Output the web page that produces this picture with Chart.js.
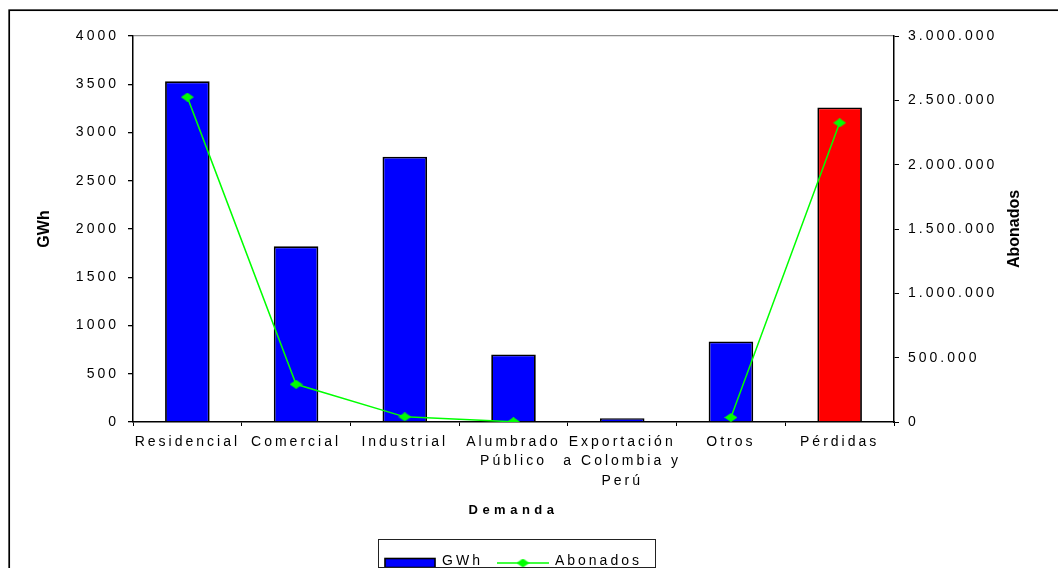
<!DOCTYPE html>
<html>
<head>
<meta charset="utf-8">
<title>Demanda</title>
<script src="https://cdn.jsdelivr.net/npm/chart.js@4/dist/chart.umd.min.js"></script>
<style>
  html, body { margin: 0; padding: 0; background: #fff; overflow: hidden; }
  canvas { display: block; }
</style>
</head>
<body>
<canvas id="c" width="1058" height="568"></canvas>
<script>
// Categories of demand
const categories = [
  'Residencial',
  'Comercial',
  'Industrial',
  ['Alumbrado', 'Público'],
  ['Exportación', 'a Colombia y', 'Perú'],
  'Otros',
  'Pérdidas'
];
// Energy per category (GWh)
const gwh = [3530, 1820, 2750, 700, 40, 835, 3260];
// Number of subscribers per category
const abonados = [2525000, 293000, 40000, 2000, null, 35000, 2325000];
// Bar fill per category
const barColors = ['#0000FF', '#0000FF', '#0000FF', '#0000FF', '#0000FF', '#0000FF', '#FF0000'];
// Axis ranges
const gwhMax = 4000, gwhStep = 500;
const aboMax = 3000000, aboStep = 500000;

const FONT = "'Liberation Sans', Arial, sans-serif";
const PAD_RIGHT = 31;

function thousands(v) {
  return String(Math.round(v)).replace(/\B(?=(\d{3})+(?!\d))/g, '.');
}

// Flattened diamond marker
function diamondImage(w, h, color) {
  const c = document.createElement('canvas');
  c.width = w; c.height = h;
  const g = c.getContext('2d');
  g.fillStyle = color;
  g.beginPath();
  g.moveTo(w / 2, 0); g.lineTo(w, h / 2); g.lineTo(w / 2, h); g.lineTo(0, h / 2);
  g.closePath(); g.fill();
  return c;
}
const marker = diamondImage(13, 9, '#00FF00');

// Legend swatches
function barSwatch() {
  const c = document.createElement('canvas');
  c.width = 52; c.height = 16;
  const g = c.getContext('2d');
  g.fillStyle = '#0000FF';
  g.fillRect(1, 5.5, 50, 9);
  g.strokeStyle = '#000'; g.lineWidth = 1.6;
  g.strokeRect(1, 5.5, 50, 9);
  return c;
}
function lineSwatch() {
  const c = document.createElement('canvas');
  c.width = 52; c.height = 16;
  const g = c.getContext('2d');
  g.strokeStyle = '#00FF00'; g.lineWidth = 1.5;
  g.beginPath(); g.moveTo(0, 10); g.lineTo(52, 10); g.stroke();
  g.drawImage(marker, 26 - 6.5, 10 - 4.5);
  return c;
}
const swatches = [barSwatch(), lineSwatch()];

const decor = {
  id: 'decor',
  beforeUpdate(chart) { chart.ctx.letterSpacing = '3px'; },
  afterUpdate(chart) {
    const patch = (scale, sp) => {
      if (!scale || scale._spPatched) return;
      const orig = scale.drawTitle;
      scale.drawTitle = function () {
        const c = this.ctx;
        const prev = c.letterSpacing;
        c.letterSpacing = sp;
        orig.apply(this, arguments);
        c.letterSpacing = prev;
      };
      scale._spPatched = true;
    };
    patch(chart.scales.x, '4.5px');
    patch(chart.scales.y, '0px');
  },
  beforeDraw(chart) {
    const ctx = chart.ctx;
    ctx.letterSpacing = '3px';
    ctx.save();
    ctx.fillStyle = '#fff';
    ctx.fillRect(0, 0, chart.width, chart.height);
    ctx.strokeStyle = '#000';
    ctx.lineWidth = 1.7;
    ctx.strokeRect(9.2, 10.2, chart.width + 20, chart.height + 20);
    ctx.restore();
  },
  afterDraw(chart) {
    const ctx = chart.ctx;
    const area = chart.chartArea;
    // right axis title, reading upwards
    ctx.save();
    ctx.letterSpacing = '0px';
    ctx.font = 'bold 16px ' + FONT;
    ctx.fillStyle = '#000';
    ctx.textAlign = 'center';
    ctx.textBaseline = 'middle';
    ctx.translate(1014.5, (area.top + area.bottom) / 2);
    ctx.rotate(-Math.PI / 2);
    ctx.fillText('Abonados', 0, 0);
    ctx.restore();
    // legend frame
    const hb = chart.legend && chart.legend.legendHitBoxes;
    if (hb && hb.length) {
      const l = hb[0].left - 7;
      const r = hb[hb.length - 1].left + hb[hb.length - 1].width + 13;
      ctx.save();
      ctx.strokeStyle = '#222';
      ctx.lineWidth = 1;
      ctx.strokeRect(Math.round(l) + 0.5, 539.5, Math.round(r - l), 28);
      ctx.restore();
    }
  }
};

new Chart(document.getElementById('c'), {
  type: 'bar',
  data: {
    labels: categories,
    datasets: [
      {
        type: 'bar',
        label: 'GWh',
        data: gwh,
        yAxisID: 'y',
        backgroundColor: barColors,
        borderColor: '#000',
        borderWidth: 1.8,
        barPercentage: 0.41,
        categoryPercentage: 1,
        order: 2
      },
      {
        type: 'line',
        label: 'Abonados',
        data: abonados,
        yAxisID: 'y1',
        borderColor: '#00FF00',
        backgroundColor: '#00FF00',
        borderWidth: 1.5,
        pointStyle: marker,
        pointRadius: 5,
        tension: 0,
        spanGaps: false,
        order: 1
      }
    ]
  },
  options: {
    responsive: false,
    animation: false,
    devicePixelRatio: 1,
    layout: { padding: { left: 0, right: PAD_RIGHT, top: 36, bottom: 0 } },
    plugins: {
      tooltip: { enabled: false },
      legend: {
        position: 'bottom',
        maxHeight: 29,
        labels: {
          usePointStyle: true,
          pointStyleWidth: 50,
          padding: 15,
          color: '#000',
          font: { family: FONT, size: 14 },
          generateLabels(chart) {
            const items = Chart.defaults.plugins.legend.labels.generateLabels(chart);
            items.sort((a, b) => a.datasetIndex - b.datasetIndex);
            items.forEach(it => { it.pointStyle = swatches[it.datasetIndex]; });
            return items;
          }
        }
      }
    },
    scales: {
      x: {
        offset: true,
        afterFit(scale) { scale.height = 146 - 29; },
        border: { color: '#000', width: 1.5 },
        grid: { drawOnChartArea: false, tickLength: 4, tickColor: '#000', offset: true },
        ticks: {
          color: '#000',
          font: { family: FONT, size: 14, lineHeight: 1.39 },
          padding: 6,
          maxRotation: 0,
          autoSkip: false
        },
        title: {
          display: true,
          text: 'Demanda',
          color: '#000',
          font: { family: FONT, size: 13, weight: 'bold', lineHeight: 1.2 },
          padding: { top: 0, bottom: 21 }
        }
      },
      y: {
        position: 'left',
        min: 0,
        max: gwhMax,
        afterFit(scale) { scale.width = 133; },
        border: { color: '#000', width: 1.5 },
        grid: {
          drawOnChartArea: true,
          tickLength: 5,
          tickColor: '#000',
          lineWidth: 1.3,
          color: (ctx) => (ctx.tick && ctx.tick.value === gwhMax ? '#8c8c8c' : 'rgba(0,0,0,0)')
        },
        ticks: {
          stepSize: gwhStep,
          color: '#000',
          padding: 9,
          font: { family: FONT, size: 14 },
          callback: (v) => String(v)
        },
        title: {
          display: true,
          text: 'GWh',
          color: '#000',
          font: { family: FONT, size: 16, weight: 'bold', lineHeight: 1.2 },
          padding: { top: 35, bottom: 0 }
        }
      },
      y1: {
        position: 'right',
        min: 0,
        max: aboMax,
        afterFit(scale) { scale.width = 1058 - PAD_RIGHT - 894; },
        border: { color: '#000', width: 1.5 },
        grid: { drawOnChartArea: false, tickLength: 5, tickColor: '#000' },
        ticks: {
          stepSize: aboStep,
          color: '#000',
          padding: 9,
          font: { family: FONT, size: 14 },
          callback: (v) => thousands(v)
        }
      }
    }
  },
  plugins: [decor]
});
</script>
</body>
</html>
